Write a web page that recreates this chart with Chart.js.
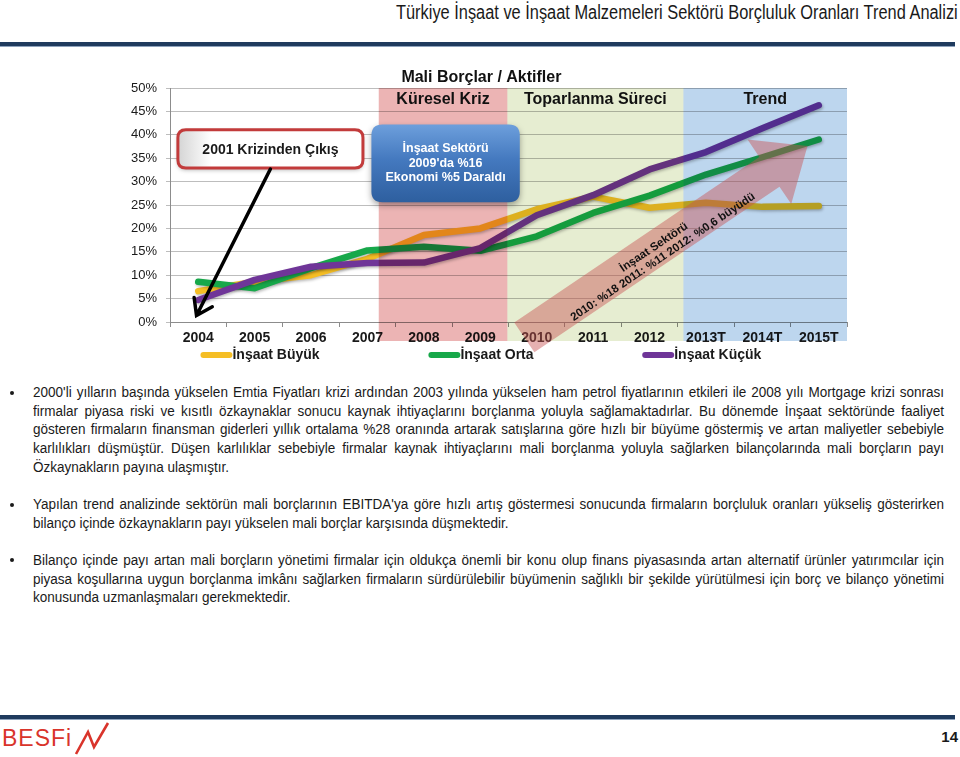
<!DOCTYPE html>
<html lang="tr">
<head>
<meta charset="utf-8">
<title>Borçluluk Oranları Trend Analizi</title>
<script src="https://cdn.jsdelivr.net/npm/chart.js@4.4.1/dist/chart.umd.min.js"></script>
<style>
  body { margin: 0; width: 960px; height: 757px; position: relative; overflow: hidden; background: #fff;
         font-family: "Liberation Sans", Arial, sans-serif; color: #1a1a1a; }
  /* no narrow face installed: squeeze the regular one instead */
  .top-title { position: absolute; right: 2px; top: 1px; font-size: 19.5px; white-space: nowrap;
               transform: scaleX(0.84); transform-origin: right top; }
  .rule { position: absolute; left: 0; width: 955px; height: 4px; background: #1f3b5e; border-bottom: 1px solid #8ea3bd; }
  #chart { position: absolute; left: 0; top: 0; }
  .notes { position: absolute; left: 0; top: 383px; width: 944px; }
  .item { position: relative; margin: 0 0 18.5px 0; padding-left: 33px; }
  .item .dot { position: absolute; left: 10px; top: 7.5px; width: 4px; height: 4px; border-radius: 50%; background: #1a1a1a; }
  .item .txt { width: 1045px; transform: scaleX(0.8718); transform-origin: left top; text-align: justify;
               font-size: 15.5px; line-height: 18.7px; }
  .logo { position: absolute; left: 0; top: 720px; }
  .page { position: absolute; right: 2px; top: 728px; font: bold 15px "Liberation Sans", Arial, sans-serif; }
</style>
</head>
<body>
<div class="top-title">Türkiye İnşaat ve İnşaat Malzemeleri Sektörü Borçluluk Oranları Trend Analizi</div>
<div class="rule" style="top:42px"></div>

<canvas id="chart" width="960" height="372"></canvas>

<div class="notes">
  <div class="item"><span class="dot"></span><div class="txt">2000'li yılların başında yükselen Emtia Fiyatları krizi ardından 2003 yılında yükselen ham petrol fiyatlarının etkileri ile 2008 yılı Mortgage krizi sonrası firmalar piyasa riski ve kısıtlı özkaynaklar sonucu kaynak ihtiyaçlarını borçlanma yoluyla sağlamaktadırlar. Bu dönemde İnşaat sektöründe faaliyet gösteren firmaların finansman giderleri yıllık ortalama %28 oranında artarak satışlarına göre hızlı bir büyüme göstermiş ve artan maliyetler sebebiyle karlılıkları düşmüştür. Düşen karlılıklar sebebiyle firmalar kaynak ihtiyaçlarını mali borçlanma yoluyla sağlarken bilançolarında mali borçların payı Özkaynakların payına ulaşmıştır.</div></div>
  <div class="item"><span class="dot"></span><div class="txt">Yapılan trend analizinde sektörün mali borçlarının EBITDA'ya göre hızlı artış göstermesi sonucunda firmaların borçluluk oranları yükseliş gösterirken bilanço içinde özkaynakların payı yükselen mali borçlar karşısında düşmektedir.</div></div>
  <div class="item"><span class="dot"></span><div class="txt">Bilanço içinde payı artan mali borçların yönetimi firmalar için oldukça önemli bir konu olup finans piyasasında artan alternatif ürünler yatırımcılar için piyasa koşullarına uygun borçlanma imkânı sağlarken firmaların sürdürülebilir büyümenin sağlıklı bir şekilde yürütülmesi için borç ve bilanço yönetimi konusunda uzmanlaşmaları gerekmektedir.</div></div>
</div>

<div class="rule" style="top:715px"></div>
<svg class="logo" width="120" height="36" viewBox="0 0 120 36">
  <text x="2" y="26" font-family="Liberation Sans, Arial, sans-serif" font-size="23" letter-spacing="1" fill="#d9342b">BESFi</text>
  <polyline points="76,34 88,12 94,27 108,3" fill="none" stroke="#d9342b" stroke-width="2.6" stroke-linejoin="miter"/>
</svg>
<div class="page">14</div>

<script>
// Years on the x axis ("T" = trend estimate)
const YEARS = ['2004', '2005', '2006', '2007', '2008', '2009', '2010', '2011', '2012', '2013T', '2014T', '2015T'];
// Mali Borçlar / Aktifler, %
const INSAAT_BUYUK = [6.6, 8.6, 10.0, 13.5, 18.6, 20.0, 24.1, 26.8, 24.4, 25.5, 24.6, 24.8];
const INSAAT_ORTA  = [8.6, 7.2, 11.5, 15.3, 16.1, 15.2, 18.3, 23.3, 27.0, 31.5, 35.2, 39.0];
const INSAAT_KUCUK = [4.7, 9.0, 11.8, 12.6, 12.7, 15.8, 22.8, 27.1, 32.6, 36.3, 41.4, 46.3];
const SERIES_NAMES = ['İnşaat Büyük', 'İnşaat Orta', 'İnşaat Küçük'];
const SERIES_COLORS = ['#f5be25', '#17a84a', '#6f3598'];
const Y_MAX = 50, Y_STEP = 5;

const FONT = '"Liberation Sans", Arial, sans-serif';
Chart.defaults.font.family = FONT;
Chart.defaults.color = '#1a1a1a';

// period bands, in category-index units
const PERIODS = [
  { label: 'Küresel Kriz',      from: 3.2,  to: 5.48, color: '#ecb4b4' },
  { label: 'Toparlanma Süreci', from: 5.48, to: 8.6,  color: '#e6edd1' },
  { label: 'Trend',             from: 8.6,  to: 11.5, color: '#bdd6ee' },
];

const px = (c, i) => c.scales.x.getPixelForValue(i);
const py = (c, v) => c.scales.y.getPixelForValue(v);

function rrect(ctx, x, y, w, h, r) {
  ctx.beginPath();
  ctx.moveTo(x + r, y);
  ctx.lineTo(x + w - r, y); ctx.quadraticCurveTo(x + w, y, x + w, y + r);
  ctx.lineTo(x + w, y + h - r); ctx.quadraticCurveTo(x + w, y + h, x + w - r, y + h);
  ctx.lineTo(x + r, y + h); ctx.quadraticCurveTo(x, y + h, x, y + h - r);
  ctx.lineTo(x, y + r); ctx.quadraticCurveTo(x, y, x + r, y);
  ctx.closePath();
}

// soft shadow under each line
const lineShadow = {
  id: 'lineShadow',
  beforeDatasetDraw(chart) {
    const ctx = chart.ctx;
    ctx.save();
    ctx.shadowColor = 'rgba(0,0,0,0.28)';
    ctx.shadowBlur = 3;
    ctx.shadowOffsetX = 1;
    ctx.shadowOffsetY = 1.5;
  },
  afterDatasetDraw(chart) { chart.ctx.restore(); },
};

// coloured period bands laid over the lines (multiply, so lines tint like the original)
const periodBands = {
  id: 'periodBands',
  afterDatasetsDraw(chart) {
    const { ctx, chartArea } = chart;
    ctx.save();
    ctx.globalCompositeOperation = 'multiply';
    for (const b of PERIODS) {
      const x0 = px(chart, b.from), x1 = px(chart, b.to);
      ctx.fillStyle = b.color;
      ctx.fillRect(x0, chartArea.top, x1 - x0, chartArea.bottom + 19 - chartArea.top);
    }
    ctx.restore();

    // big growth arrow
    const tail = { x: px(chart, 5.78), y: py(chart, -3.3) };
    const tip = { x: px(chart, 10.8), y: py(chart, 37.6) };
    const ang = Math.atan2(tip.y - tail.y, tip.x - tail.x);
    const len = Math.hypot(tip.x - tail.x, tip.y - tail.y);
    const head = 46, half = 18, wing = 39;
    ctx.save();
    ctx.translate(tail.x, tail.y);
    ctx.rotate(ang);
    ctx.beginPath();
    ctx.moveTo(0, -half);
    ctx.lineTo(len - head, -half);
    ctx.lineTo(len - head, -wing);
    ctx.lineTo(len, 0);
    ctx.lineTo(len - head, wing);
    ctx.lineTo(len - head, half);
    ctx.lineTo(0, half);
    ctx.closePath();
    ctx.fillStyle = 'rgba(200,82,82,0.45)';
    ctx.fill();
    ctx.fillStyle = '#111';
    ctx.font = 'bold 11.5px ' + FONT;
    ctx.textAlign = 'center';
    ctx.textBaseline = 'middle';
    ctx.fillText('İnşaat Sektörü', 158, -2);
    ctx.fillText('2010: %18 2011: %11 2012: %0,6 büyüdü', 160, 11);
    ctx.restore();
  },
};

const annotations = {
  id: 'annotations',
  afterDraw(chart) {
    const { ctx, chartArea } = chart;
    ctx.save();
    ctx.textAlign = 'center';
    ctx.textBaseline = 'middle';

    // titles
    ctx.fillStyle = '#111';
    ctx.font = 'bold 16px ' + FONT;
    ctx.fillText('Mali Borçlar / Aktifler', px(chart, 5.02), py(chart, 52.2));
    for (const b of PERIODS) {
      ctx.fillText(b.label, (px(chart, b.from) + px(chart, b.to)) / 2, py(chart, 47.6));
    }

    // "2001 Krizinden Çıkış" call-out
    let x0 = px(chart, -0.36), x1 = px(chart, 2.92), y0 = py(chart, 41.1), y1 = py(chart, 32.9);
    ctx.save();
    ctx.shadowColor = 'rgba(0,0,0,0.3)';
    ctx.shadowBlur = 4; ctx.shadowOffsetY = 2;
    rrect(ctx, x0, y0, x1 - x0, y1 - y0, 8);
    const g1 = ctx.createLinearGradient(x0, 0, x1, 0);
    g1.addColorStop(0, '#d4d4d4'); g1.addColorStop(0.18, '#ffffff'); g1.addColorStop(1, '#ffffff');
    ctx.fillStyle = g1;
    ctx.fill();
    ctx.restore();
    rrect(ctx, x0, y0, x1 - x0, y1 - y0, 8);
    ctx.lineWidth = 3;
    ctx.strokeStyle = '#c23b3b';
    ctx.stroke();
    ctx.fillStyle = '#1a1a1a';
    ctx.font = 'bold 14px ' + FONT;
    ctx.fillText('2001 Krizinden Çıkış', (x0 + x1) / 2, (y0 + y1) / 2 + 1);

    // black pointer arrow
    const a0 = { x: px(chart, 1.28), y: py(chart, 32.7) };
    const a1 = { x: px(chart, -0.03), y: py(chart, 1.4) };
    const back = Math.atan2(a0.y - a1.y, a0.x - a1.x);
    ctx.strokeStyle = '#000';
    ctx.lineWidth = 3.5;
    ctx.lineCap = 'round';
    ctx.beginPath();
    ctx.moveTo(a0.x, a0.y);
    ctx.lineTo(a1.x, a1.y);
    ctx.moveTo(a1.x + 18 * Math.cos(back - 0.6), a1.y + 18 * Math.sin(back - 0.6));
    ctx.lineTo(a1.x, a1.y);
    ctx.lineTo(a1.x + 18 * Math.cos(back + 0.6), a1.y + 18 * Math.sin(back + 0.6));
    ctx.stroke();

    // blue call-out
    x0 = px(chart, 3.07); x1 = px(chart, 5.7); y0 = py(chart, 42.2); y1 = py(chart, 25.6);
    ctx.save();
    ctx.shadowColor = 'rgba(0,0,0,0.35)';
    ctx.shadowBlur = 6; ctx.shadowOffsetY = 3;
    rrect(ctx, x0, y0, x1 - x0, y1 - y0, 11);
    const g2 = ctx.createLinearGradient(0, y0, 0, y1);
    g2.addColorStop(0, '#6d9fdc'); g2.addColorStop(0.45, '#4479bf'); g2.addColorStop(1, '#2e5f9f');
    ctx.fillStyle = g2;
    ctx.fill();
    ctx.restore();
    ctx.fillStyle = '#fff';
    ctx.font = 'bold 12.5px ' + FONT;
    const cx = (x0 + x1) / 2;
    ctx.fillText('İnşaat Sektörü', cx, py(chart, 37.0));
    ctx.fillText("2009'da %16", cx, py(chart, 33.9));
    ctx.fillText('Ekonomi %5 Daraldı', cx, py(chart, 30.8));

    // legend
    const ly = chartArea.bottom + 33;
    const starts = [0.04, 4.08, 7.87];
    ctx.textAlign = 'left';
    ctx.font = 'bold 14px ' + FONT;
    chart.data.datasets.forEach((ds, i) => {
      const sx = px(chart, starts[i]);
      ctx.strokeStyle = ds.borderColor;
      ctx.lineWidth = 6;
      ctx.lineCap = 'round';
      ctx.beginPath();
      ctx.moveTo(sx + 3, ly);
      ctx.lineTo(sx + 29, ly);
      ctx.stroke();
      ctx.fillStyle = '#1a1a1a';
      ctx.fillText(ds.label, sx + 32, ly);
    });
    ctx.restore();
  },
};

const makeSet = (i, data, order) => ({
  label: SERIES_NAMES[i],
  data,
  borderColor: SERIES_COLORS[i],
  backgroundColor: SERIES_COLORS[i],
  borderWidth: 6.5,
  borderCapStyle: 'round',
  borderJoinStyle: 'round',
  pointRadius: 0,
  tension: 0,
  order,
});

new Chart(document.getElementById('chart'), {
  type: 'line',
  data: {
    labels: YEARS,
    datasets: [
      makeSet(0, INSAAT_BUYUK, 2),
      makeSet(1, INSAAT_ORTA, 1),
      makeSet(2, INSAAT_KUCUK, 0),
    ],
  },
  options: {
    responsive: false,
    animation: false,
    layout: { padding: { top: 88, right: 113, left: 0, bottom: 0 } },
    plugins: { legend: { display: false }, tooltip: { enabled: false } },
    scales: {
      x: {
        offset: true,
        afterFit: (s) => { s.height = 50; },
        grid: { offset: true, drawOnChartArea: false, tickLength: 5, color: '#8c8c8c' },
        border: { color: '#8c8c8c' },
        ticks: { font: { size: 14, weight: 'bold' }, color: '#1a1a1a', padding: 3, maxRotation: 0, autoSkip: false },
      },
      y: {
        min: 0,
        max: Y_MAX,
        afterFit: (s) => { s.width = 170; },
        grid: { color: '#bdbdbd', tickLength: 4 },
        border: { color: '#8c8c8c' },
        ticks: { stepSize: Y_STEP, padding: 9, font: { size: 13 }, color: '#1a1a1a', callback: (v) => v + '%' },
      },
    },
  },
  plugins: [lineShadow, periodBands, annotations],
});
</script>
</body>
</html>
